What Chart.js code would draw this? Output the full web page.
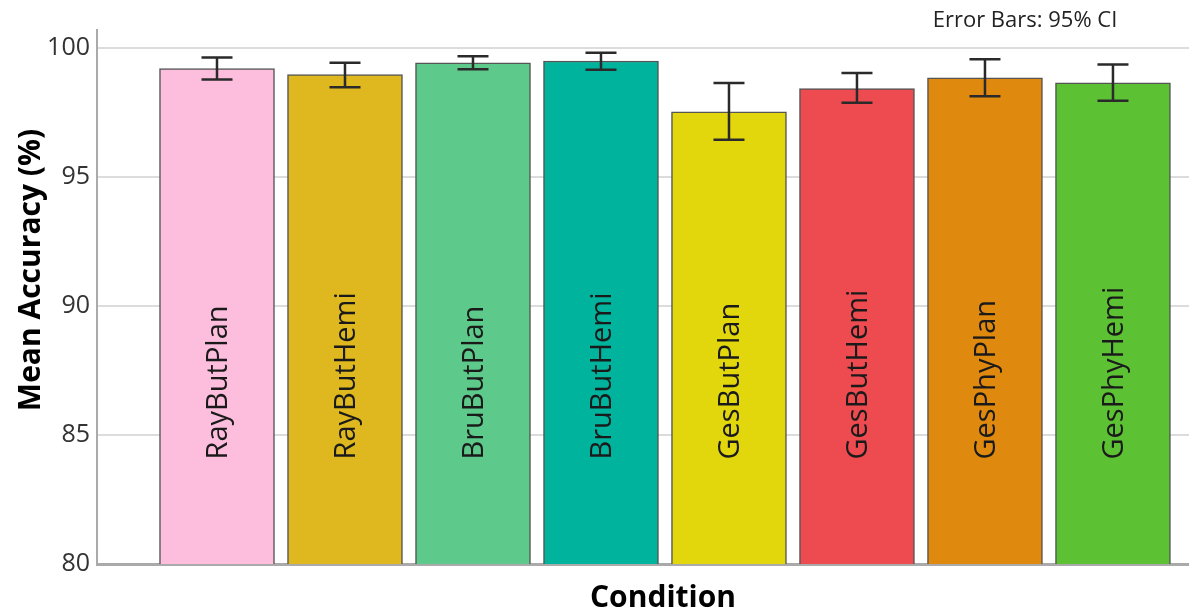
<!DOCTYPE html>
<html>
<head>
<meta charset="utf-8">
<script src="https://cdn.jsdelivr.net/npm/chart.js@4.4.1/dist/chart.umd.min.js"></script>
<style>
  html, body { margin: 0; padding: 0; background: #fff; }
  #wrap { width: 1189px; height: 616px; }
</style>
</head>
<body>
<div id="wrap"><canvas id="myChart"></canvas></div>
<script>
// categories and values
const conditions = ['RayButPlan', 'RayButHemi', 'BruButPlan', 'BruButHemi', 'GesButPlan', 'GesButHemi', 'GesPhyPlan', 'GesPhyHemi'];
const meanAccuracy = [99.2, 98.97, 99.43, 99.5, 97.53, 98.43, 98.85, 98.65];
const ciLow = [98.78, 98.48, 99.18, 99.16, 96.45, 97.88, 98.13, 97.96];
const ciHigh = [99.63, 99.43, 99.68, 99.82, 98.65, 99.03, 99.57, 99.36];
const yTicks = [80, 85, 90, 95, 100];
const barColors = ['#FDBEDD', '#DEB81E', '#5DC98A', '#00B39D', '#E2D60D', '#ED4B4F', '#E0890F', '#5DC134'];

const FONT = "'Open Sans', 'DejaVu Sans', sans-serif";

// error bars drawn through the scales
const errorBars = {
    id: 'errorBars',
    afterDatasetsDraw(chart) {
        const ctx = chart.ctx;
        const xs = chart.scales.x, ys = chart.scales.y;
        ctx.save();
        ctx.strokeStyle = '#2a2a2a';
        ctx.lineWidth = 2.5;
        for (let i = 0; i < conditions.length; i++) {
            const x = xs.getPixelForValue(i);
            const top = ys.getPixelForValue(ciHigh[i]);
            const bot = ys.getPixelForValue(ciLow[i]);
            const half = 15.5;
            ctx.beginPath();
            ctx.moveTo(x, top); ctx.lineTo(x, bot);
            ctx.moveTo(x - half, top); ctx.lineTo(x + half, top);
            ctx.moveTo(x - half, bot); ctx.lineTo(x + half, bot);
            ctx.stroke();
        }
        ctx.restore();
    }
};

// rotated names inside the bars + axis titles + note
const textBits = {
    id: 'textBits',
    afterDraw(chart) {
        const ctx = chart.ctx;
        const xs = chart.scales.x, ys = chart.scales.y;
        ctx.save();
        ctx.fillStyle = '#1a1a1a';
        ctx.font = '29px ' + FONT;
        ctx.textAlign = 'left';
        ctx.textBaseline = 'middle';
        const startY = ys.getPixelForValue(84.05);
        conditions.forEach((name, i) => {
            ctx.save();
            ctx.translate(xs.getPixelForValue(i) + 2, startY);
            ctx.rotate(-Math.PI / 2);
            ctx.fillText(name, 0, 0);
            ctx.restore();
        });

        ctx.fillStyle = '#000';
        ctx.font = 'bold 30px ' + FONT;
        ctx.textAlign = 'center';
        ctx.save();
        ctx.translate(31, 270);
        ctx.rotate(-Math.PI / 2);
        ctx.fillText('Mean Accuracy (%)', 0, 0);
        ctx.restore();
        ctx.fillText('Condition', 663, 598);

        ctx.fillStyle = '#222';
        ctx.font = '22px ' + FONT;
        ctx.fillText('Error Bars: 95% CI', 1025, 21);
        ctx.restore();
    }
};

if (document.getElementById('myChart')) {
    var ctx = document.getElementById('myChart').getContext('2d');
    var myChart = new Chart(ctx, {
        type: 'bar',
        data: {
            datasets: [{
                label: 'Mean Accuracy',
                data: meanAccuracy.map((v, i) => ({ x: i, y: v })),
                backgroundColor: barColors,
                borderColor: '#555',
                borderWidth: 1.5,
                borderSkipped: false,
                barThickness: 115
            }]
        },
        options: {
            responsive: true,
            maintainAspectRatio: false,
            animation: false,
            layout: { padding: { top: 30, right: 0, left: 0, bottom: 0 } },
            plugins: {
                legend: { display: false },
                tooltip: { enabled: false }
            },
            scales: {
                x: {
                    type: 'linear',
                    offset: false,
                    min: -0.9375,
                    max: 7.594,
                    grid: { display: false, drawTicks: false },
                    ticks: { display: false },
                    border: { display: true, color: '#aaa', width: 3 },
                    afterFit(scale) { scale.height = 52; }
                },
                y: {
                    min: 80,
                    max: 100.7,
                    afterBuildTicks(scale) { scale.ticks = yTicks.map(v => ({ value: v })); },
                    grid: { color: '#dcdcdc', lineWidth: 2, drawTicks: false },
                    border: { display: true, color: '#aaa', width: 2 },
                    ticks: {
                        padding: 7,
                        color: '#333',
                        font: { family: FONT, size: 25 }
                    },
                    afterFit(scale) { scale.width = 97; }
                }
            }
        },
        plugins: [errorBars, textBits]
    });
}
</script>
</body>
</html>
